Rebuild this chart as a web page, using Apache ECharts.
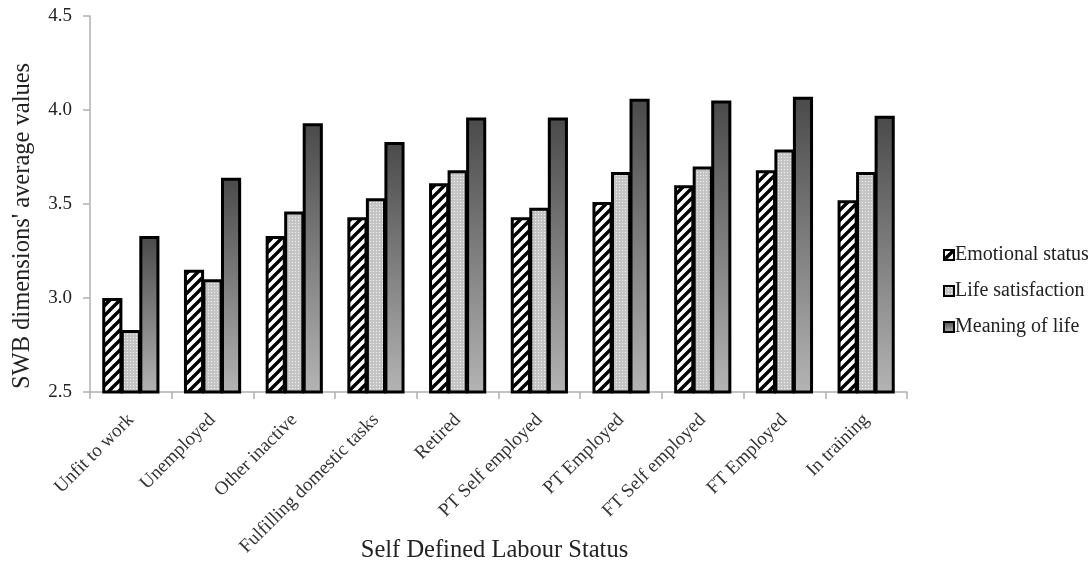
<!DOCTYPE html>
<html><head><meta charset="utf-8">
<script src="https://cdn.jsdelivr.net/npm/echarts@6/dist/echarts.min.js"></script>
<style>html,body{margin:0;padding:0;background:#fff}#c{width:1092px;height:563px}</style>
</head><body><div id="c"></div>
<script>
const categories = ['Unfit to work','Unemployed','Other inactive','Fulfilling domestic tasks','Retired','PT Self employed','PT Employed','FT Self employed','FT Employed','In training'];
const emotionalStatus = [3.00, 3.15, 3.33, 3.43, 3.61, 3.43, 3.51, 3.60, 3.68, 3.52];
const lifeSatisfaction = [2.83, 3.10, 3.46, 3.53, 3.68, 3.48, 3.67, 3.70, 3.79, 3.67];
const meaningOfLife = [3.33, 3.64, 3.93, 3.83, 3.96, 3.96, 4.06, 4.05, 4.07, 3.97];
const yTicks = ['2.5','3.0','3.5','4.0','4.5'];

function stripePattern(){
  const s=10, c=document.createElement('canvas'); c.width=s; c.height=s;
  const g=c.getContext('2d'); g.fillStyle='#fff'; g.fillRect(0,0,s,s);
  g.strokeStyle='#000'; g.lineWidth=3.4; g.lineCap='square';
  g.beginPath(); g.moveTo(0,s); g.lineTo(s,0);
  g.moveTo(-s/2,s/2); g.lineTo(s/2,-s/2);
  g.moveTo(s/2,s*1.5); g.lineTo(s*1.5,s/2); g.stroke();
  return c;
}
function dotPattern(){
  const s=3, c=document.createElement('canvas'); c.width=s; c.height=s;
  const g=c.getContext('2d'); g.fillStyle='#c4c4c4'; g.fillRect(0,0,s,s);
  g.fillStyle='#f4f4f4'; g.fillRect(1,1,1,1);
  return c;
}
const font='"Liberation Serif", "Times New Roman", serif';
const chart=echarts.init(document.getElementById('c'),null,{renderer:'canvas'});
chart.setOption({
  animation:false,
  backgroundColor:'#fff',
  grid:{left:90,right:185,top:16,bottom:171,containLabel:false,outerBoundsMode:'none'},
  legend:{
    orient:'vertical', left:938, top:240, itemWidth:10, itemHeight:10, itemGap:16,
    icon:'rect',
    textStyle:{fontFamily:font,fontSize:20,color:'#222',padding:[0,0,0,-4]},
    data:['Emotional status','Life satisfaction','Meaning of life']
  },
  xAxis:{
    type:'category', data:categories,
    name:'Self Defined Labour Status', nameLocation:'middle', nameGap:146, nameMoveOverlap:false,
    nameTextStyle:{fontFamily:font,fontSize:24.5,color:'#222',padding:[0,8,0,0]},
    axisLine:{lineStyle:{color:'#b0b0b0',width:1.5}},
    axisTick:{show:true,length:7,lineStyle:{color:'#b0b0b0',width:1.5}},
    axisLabel:{rotate:45,fontFamily:font,fontSize:19,color:'#333',margin:25,interval:0}
  },
  yAxis:{
    type:'value', min:2.5, max:4.5, interval:0.5,
    name:"SWB dimensions' average values", nameLocation:'middle', nameGap:55, nameMoveOverlap:false,
    nameTextStyle:{fontFamily:font,fontSize:24.5,color:'#222',padding:[0,44,0,0]},
    axisLine:{show:true,lineStyle:{color:'#b0b0b0',width:1.5}},
    axisTick:{show:true,length:7,lineStyle:{color:'#b0b0b0',width:1.5}},
    splitLine:{show:false},
    axisLabel:{fontFamily:font,fontSize:19,color:'#222',margin:18,
      formatter:(v)=>yTicks[Math.round((v-2.5)/0.5)]}
  },
  series:[
    {name:'Emotional status',type:'bar',data:emotionalStatus,barGap:'-8%',barCategoryGap:'30%',
     itemStyle:{color:{image:stripePattern(),repeat:'repeat'},borderColor:'#000',borderWidth:3}},
    {name:'Life satisfaction',type:'bar',data:lifeSatisfaction,barGap:'-8%',barCategoryGap:'30%',
     itemStyle:{color:{image:dotPattern(),repeat:'repeat'},borderColor:'#000',borderWidth:3}},
    {name:'Meaning of life',type:'bar',data:meaningOfLife,barGap:'-8%',barCategoryGap:'30%',
     itemStyle:{color:new echarts.graphic.LinearGradient(0,0,0,1,[{offset:0,color:'#4a4a4a'},{offset:1,color:'#b4b4b4'}]),borderColor:'#000',borderWidth:3}}
  ]
});
</script></body></html>
